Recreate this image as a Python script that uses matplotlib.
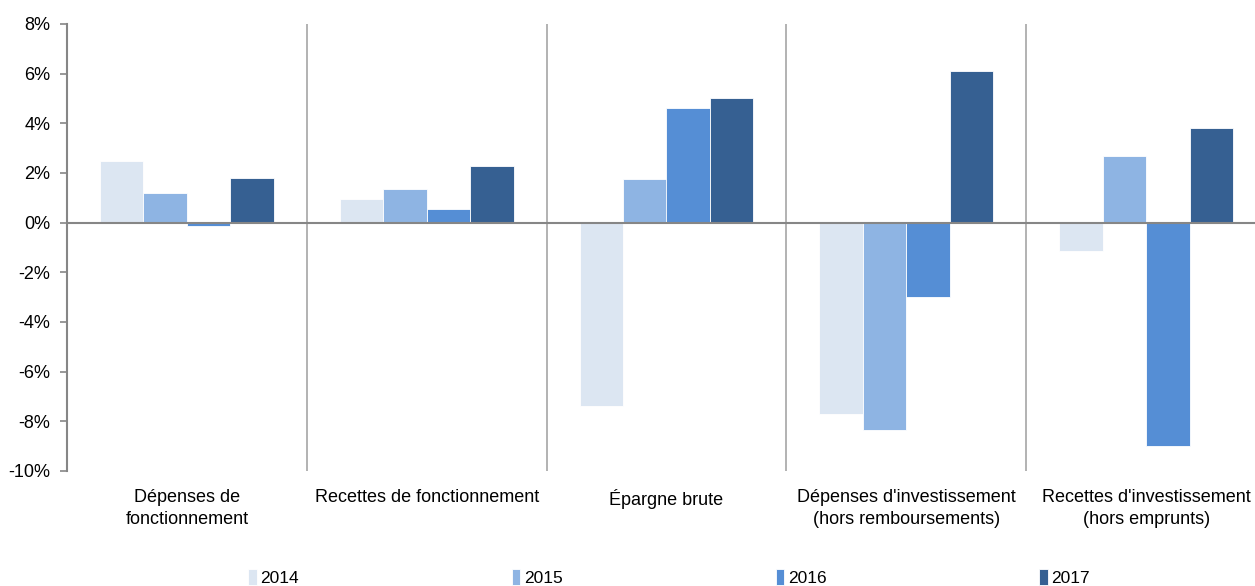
import numpy as np
from matplotlib import pyplot as plt
from matplotlib.ticker import FuncFormatter

plt.rcParams['font.family'] = ['Liberation Sans', 'DejaVu Sans']

# catégories et séries
CATEGORIES = ['Dépenses de\nfonctionnement',
              'Recettes de fonctionnement',
              'Épargne brute',
              "Dépenses d'investissement\n(hors remboursements)",
              "Recettes d'investissement\n(hors emprunts)"]
YEARS = ['2014', '2015', '2016', '2017']
V2014 = [2.5, 0.95, -7.4, -7.7, -1.15]
V2015 = [1.2, 1.35, 1.75, -8.35, 2.7]
V2016 = [-0.15, 0.55, 4.6, -3.0, -9.0]
V2017 = [1.8, 2.3, 5.0, 6.1, 3.8]
COLORS = ['#DCE6F2', '#8EB4E3', '#558ED5', '#366092']

fig = plt.figure(figsize=(12.55, 5.86), dpi=100)
W, H = 1255, 586
ax = fig.add_axes([67 / W, 1 - 471 / H, 1199 / W, 447 / H])

series = [V2014, V2015, V2016, V2017]
x = np.arange(len(CATEGORIES))
bw = 0.181
for i, (vals, col, lab) in enumerate(zip(series, COLORS, YEARS)):
    ax.bar(x + (i - 1.5) * bw, vals, bw, color=col, edgecolor='white',
           linewidth=0.6, label=lab, zorder=2)

ax.set_xlim(-0.5, len(CATEGORIES) - 0.5)
ax.set_ylim(-10, 8)
ax.set_yticks(np.arange(-10, 9, 2))
ax.yaxis.set_major_formatter(FuncFormatter(lambda v, p: '%d%%' % v))

# séparateurs entre catégories
for b in np.arange(0.5, len(CATEGORIES) - 0.5, 1):
    ax.axvline(b, color='#A6A6A6', linewidth=1.2, zorder=1)
ax.axhline(0, color='#868686', linewidth=1.5, zorder=3)

for s in ['top', 'right', 'bottom']:
    ax.spines[s].set_visible(False)
ax.spines['left'].set_color('#868686')
ax.spines['left'].set_linewidth(1.5)

ax.set_xticks(x)
ax.set_xticklabels(CATEGORIES, fontsize=13, color='#000000', linespacing=1.4)
ax.tick_params(axis='x', length=0, pad=13)
ax.tick_params(axis='y', length=5, width=1.2, color='#868686', labelsize=13, pad=7)

fig.legend(loc='lower left', bbox_to_anchor=(241 / W, -0.012), ncol=4,
           frameon=False, fontsize=12.5, handlelength=0.5, handleheight=1.0,
           handletextpad=0.2, columnspacing=12.27, borderaxespad=0)

plt.savefig('out.png', dpi=100)
